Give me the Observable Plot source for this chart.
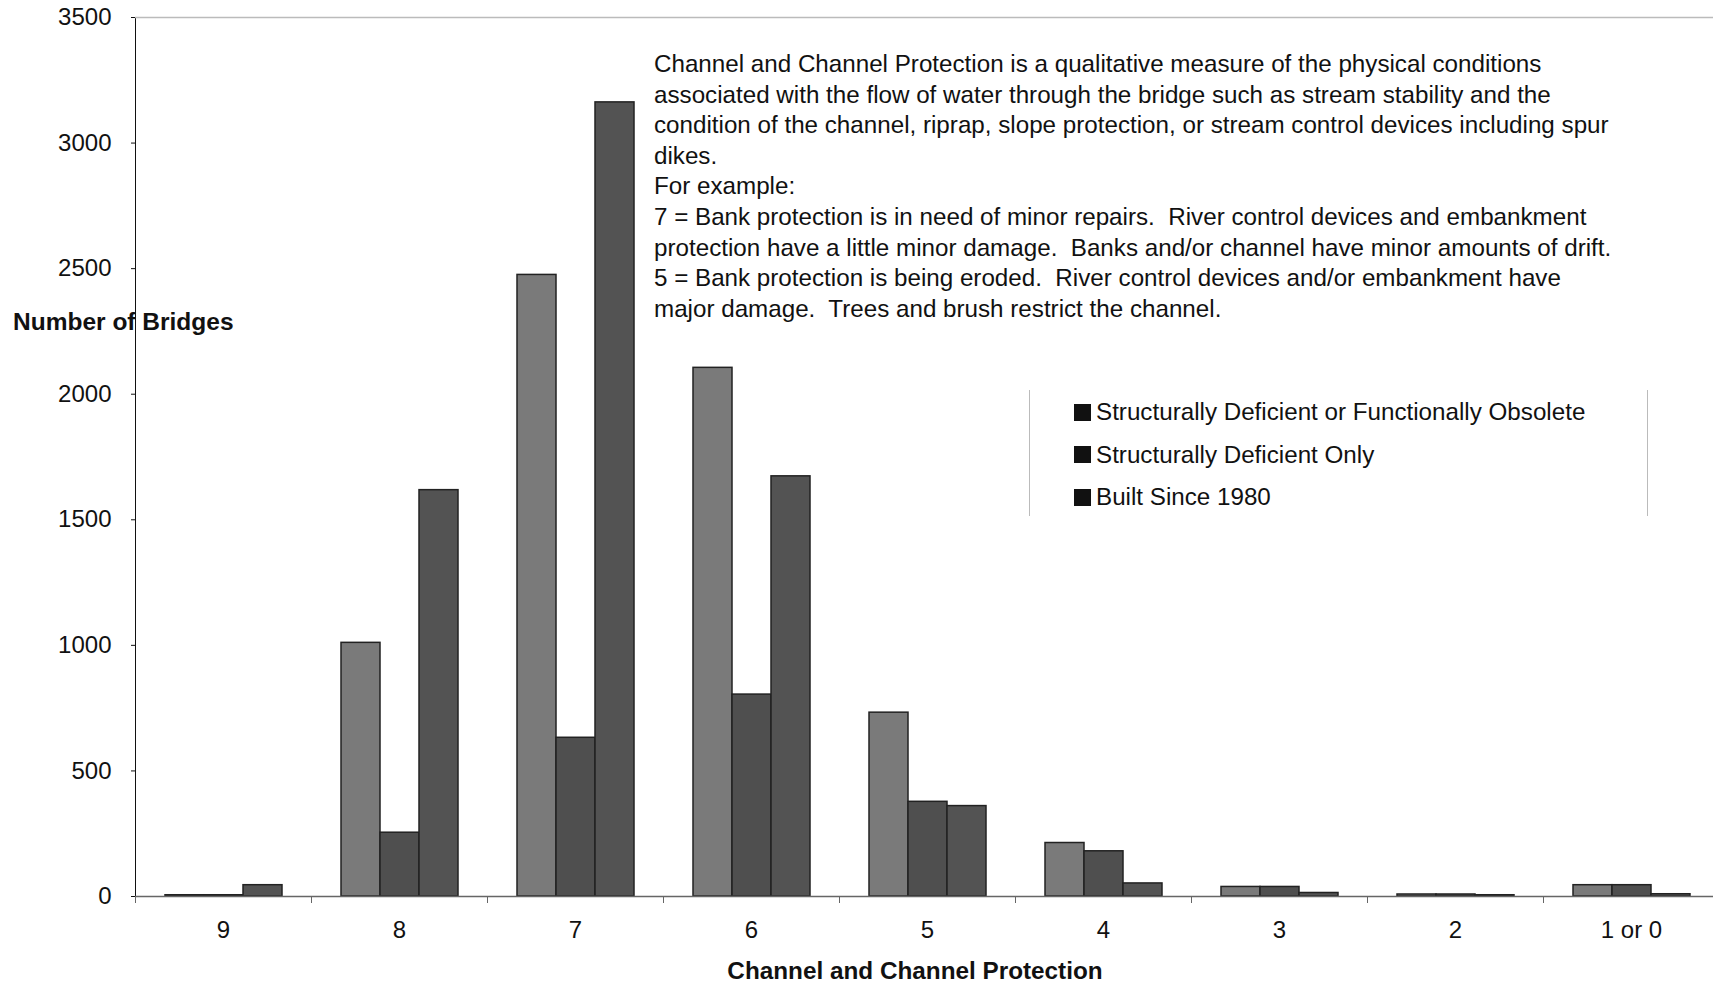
<!DOCTYPE html>
<html>
<head>
<meta charset="utf-8">
<script src="https://cdn.jsdelivr.net/npm/d3@7"></script>
<script src="https://cdn.jsdelivr.net/npm/@observablehq/plot@0.6"></script>
<style>
  html, body { margin: 0; padding: 0; background: #fff; overflow: hidden; }
  #wrap { position: relative; width: 1713px; height: 985px; overflow: hidden; font-family: "Liberation Sans", Arial, sans-serif; color: #111; }
  #wrap svg { position: absolute; left: 0; top: 0; max-width: none !important; }
  .ylab { position: absolute; left: 13px; top: 308px; font-weight: bold; font-size: 24.5px; white-space: nowrap; }
  .xlab { position: absolute; left: 0; width: 1830px; top: 957px; text-align: center; font-weight: bold; font-size: 24.3px; }
  .note { position: absolute; left: 654px; top: 49px; font-size: 24.2px; line-height: 30.6px; white-space: pre; }
  .legend { position: absolute; left: 1029px; top: 390px; width: 617px; height: 126px; border-left: 1px solid #bbb; border-right: 1px solid #bbb; }
  .legend .item { position: absolute; left: 44px; font-size: 24.2px; white-space: nowrap; display: flex; align-items: center; }
  .legend .sw { width: 17px; height: 17px; background: #111; margin-right: 5px; }
</style>
</head>
<body>
<div id="wrap"></div>
<script>
const categories = ["9", "8", "7", "6", "5", "4", "3", "2", "1 or 0"];
const seriesNames = ["Structurally Deficient or Functionally Obsolete", "Structurally Deficient Only", "Built Since 1980"];
const sdOrFo    = [5, 1010, 2475, 2105, 732, 213, 38, 8, 45];
const sdOnly    = [5, 254, 632, 804, 377, 180, 38, 8, 45];
const built1980 = [45, 1618, 3162, 1673, 360, 52, 14, 5, 9];
const yTicks = [0, 500, 1000, 1500, 2000, 2500, 3000, 3500];
const barColors = ["#7a7a7a", "#4f4f4f", "#535353"];
const noteLines = [
  "Channel and Channel Protection is a qualitative measure of the physical conditions",
  "associated with the flow of water through the bridge such as stream stability and the",
  "condition of the channel, riprap, slope protection, or stream control devices including spur",
  "dikes.",
  "For example:",
  "7 = Bank protection is in need of minor repairs.  River control devices and embankment",
  "protection have a little minor damage.  Banks and/or channel have minor amounts of drift.",
  "5 = Bank protection is being eroded.  River control devices and/or embankment have",
  "major damage.  Trees and brush restrict the channel."
];

const seriesValues = [sdOrFo, sdOnly, built1980];
const data = categories.flatMap((c, i) => seriesNames.map((s, j) => ({cat: c, series: s, value: seriesValues[j][i]})));

const W = 1719, H = 985, ML = 135, MR = 0, MT = 17, MB = 89;
const step = (W - ML - MR) / categories.length;

const chart = Plot.plot({
  width: W, height: H,
  marginLeft: ML, marginRight: MR, marginTop: MT, marginBottom: MB,
  style: {fontFamily: "Liberation Sans, Arial, sans-serif", fontSize: "24px", color: "#111", background: "transparent"},
  fx: {domain: categories, padding: 0, label: null},
  x: {domain: seriesNames, paddingInner: 0, paddingOuter: 0.75, axis: null},
  y: {domain: [0, 3500], ticks: yTicks, tickSize: 4, tickPadding: 20, label: null, line: true, tickFormat: d => String(d)},
  color: {domain: seriesNames, range: barColors},
  marks: [
    Plot.axisFx({anchor: "bottom", tickSize: 0, tickPadding: 24, label: null}),
    Plot.axisFx({anchor: "bottom", tickSize: 7, tickFormat: () => "", dx: -step / 2, label: null, stroke: "#666"}),
    Plot.ruleY([3500], {stroke: "#bbb", strokeWidth: 1.5}),
    Plot.barY(data, {fx: "cat", x: "series", y: "value", fill: "series", stroke: "#222", strokeWidth: 1.5}),
    Plot.ruleY([0], {stroke: "#666", strokeWidth: 1.5})
  ]
});

const wrap = document.getElementById("wrap");
wrap.appendChild(chart);

const ylab = document.createElement("div");
ylab.className = "ylab"; ylab.textContent = "Number of Bridges";
wrap.appendChild(ylab);

const xlab = document.createElement("div");
xlab.className = "xlab"; xlab.textContent = "Channel and Channel Protection";
wrap.appendChild(xlab);

const note = document.createElement("div");
note.className = "note"; note.textContent = noteLines.join("\n");
wrap.appendChild(note);

const legend = document.createElement("div");
legend.className = "legend";
seriesNames.forEach((s, i) => {
  const it = document.createElement("div");
  it.className = "item";
  it.style.top = (8 + i * 42.5) + "px";
  const sw = document.createElement("span"); sw.className = "sw";
  const tx = document.createElement("span"); tx.textContent = s;
  it.appendChild(sw); it.appendChild(tx);
  legend.appendChild(it);
});
wrap.appendChild(legend);
</script>
</body>
</html>
